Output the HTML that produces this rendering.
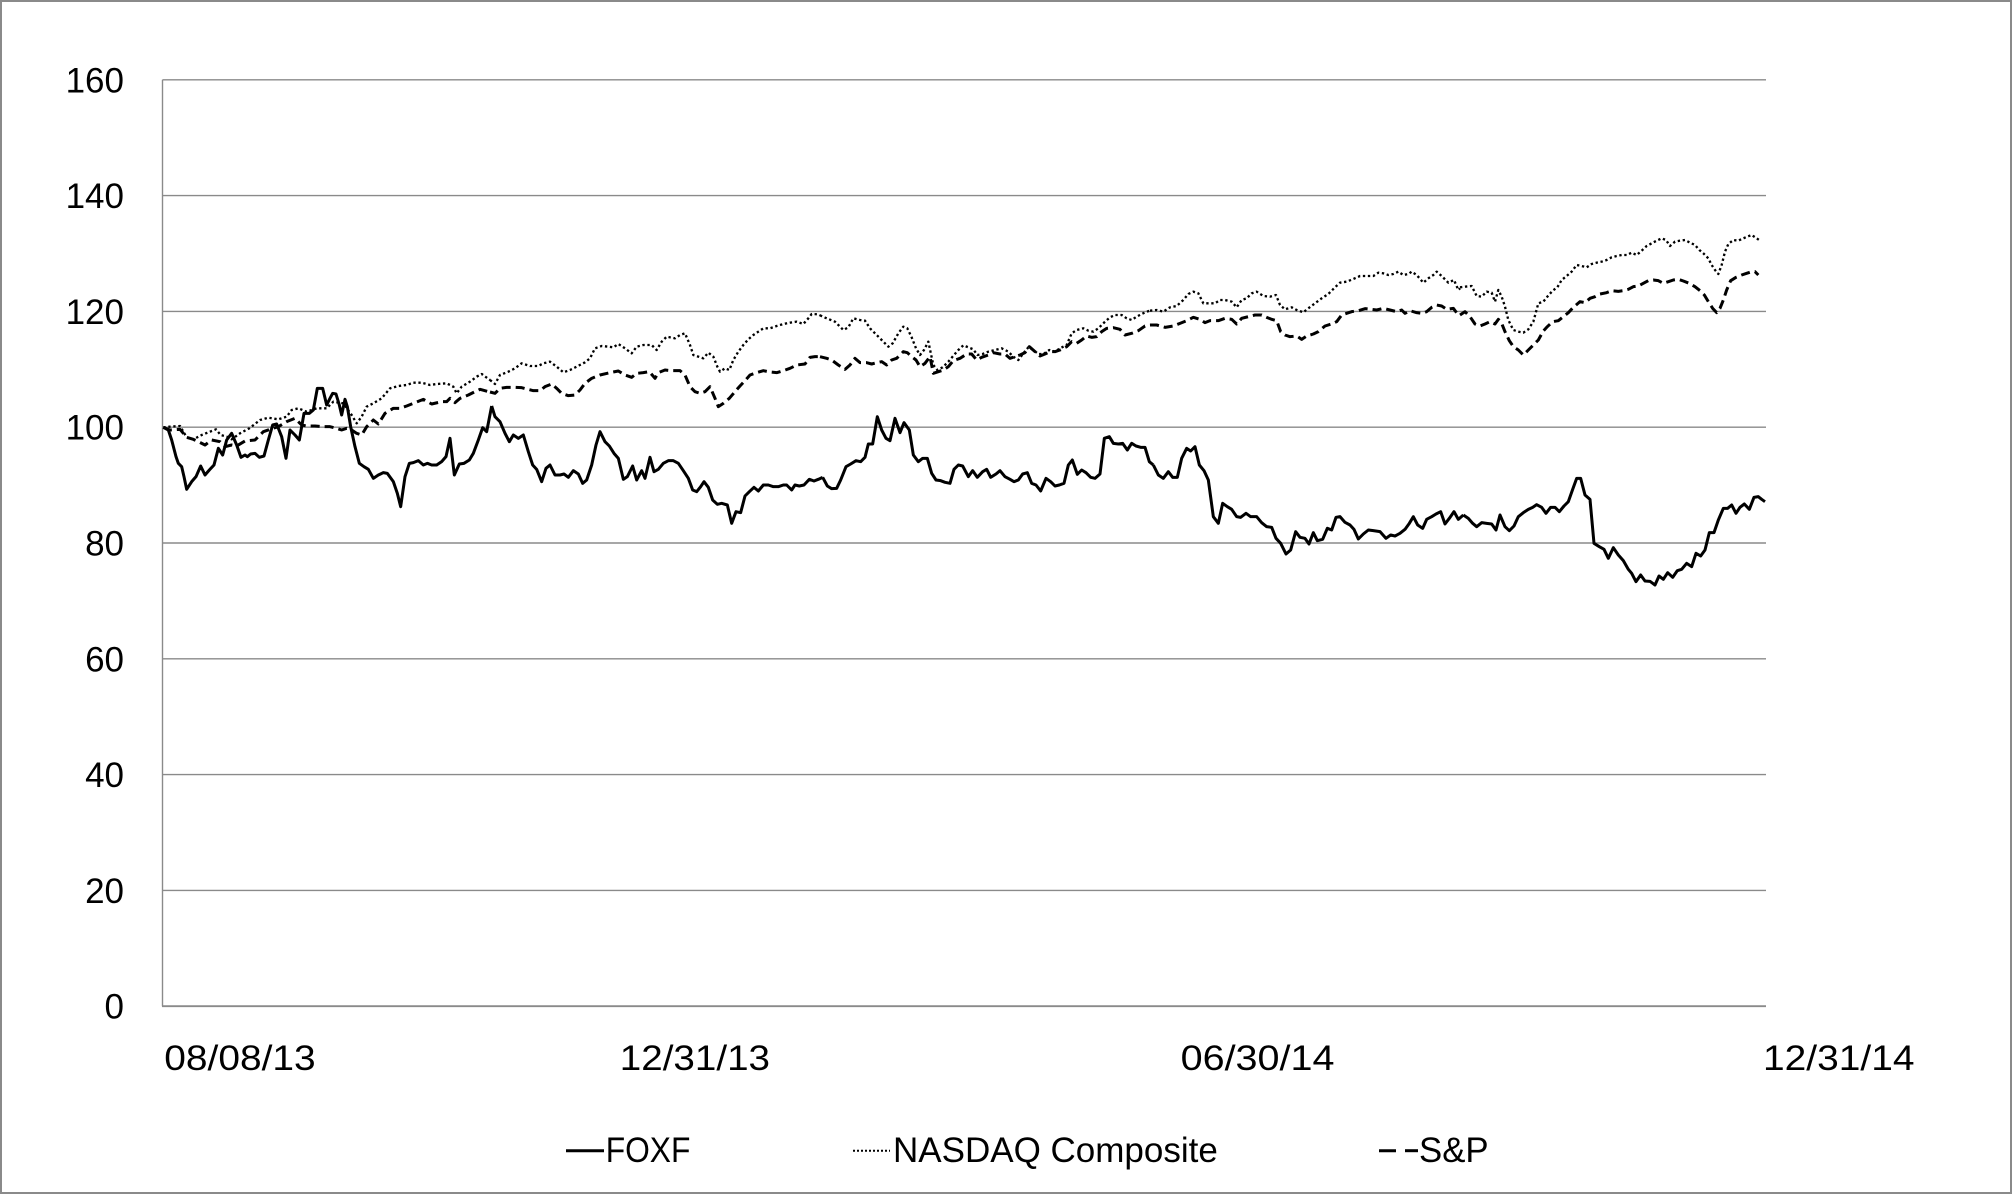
<!DOCTYPE html>
<html><head><meta charset="utf-8"><style>
html,body{margin:0;padding:0;background:#fff;}
svg{display:block;}
text{font-family:"Liberation Sans",Arial,sans-serif;fill:#000;}
</style></head><body>
<svg width="2012" height="1194" viewBox="0 0 2012 1194" xmlns="http://www.w3.org/2000/svg">
<rect x="0" y="0" width="2012" height="1194" fill="#fff"/>
<rect x="1" y="1" width="2010" height="1192" fill="none" stroke="#8a8a8a" stroke-width="2"/>
<g stroke="#8a8a8a" stroke-width="1.4" fill="none">
<line x1="162.5" y1="79.8" x2="1766" y2="79.8"/>
<line x1="162.5" y1="195.6" x2="1766" y2="195.6"/>
<line x1="162.5" y1="311.4" x2="1766" y2="311.4"/>
<line x1="162.5" y1="427.2" x2="1766" y2="427.2"/>
<line x1="162.5" y1="543" x2="1766" y2="543"/>
<line x1="162.5" y1="658.8" x2="1766" y2="658.8"/>
<line x1="162.5" y1="774.6" x2="1766" y2="774.6"/>
<line x1="162.5" y1="890.4" x2="1766" y2="890.4"/>
<line x1="162.5" y1="79.8" x2="162.5" y2="1006.2"/>
<line x1="162" y1="1006.2" x2="1766" y2="1006.2" stroke-width="1.8"/>
</g>
<g font-size="35" text-anchor="end">
<text x="124" y="92.3">160</text>
<text x="124" y="208.1">140</text>
<text x="124" y="323.9">120</text>
<text x="124" y="439.7">100</text>
<text x="124" y="555.5">80</text>
<text x="124" y="671.3">60</text>
<text x="124" y="787.1">40</text>
<text x="124" y="902.9">20</text>
<text x="124" y="1018.7">0</text>
</g>
<g font-size="35">
<text x="164.3" y="1070" textLength="151.4" lengthAdjust="spacingAndGlyphs">08/08/13</text>
<text x="619.8" y="1070" textLength="150.2" lengthAdjust="spacingAndGlyphs">12/31/13</text>
<text x="1180.6" y="1070" textLength="153.9" lengthAdjust="spacingAndGlyphs">06/30/14</text>
<text x="1763" y="1070" textLength="151.5" lengthAdjust="spacingAndGlyphs">12/31/14</text>
<text x="605.7" y="1162" textLength="84.7" lengthAdjust="spacingAndGlyphs">FOXF</text>
<text x="893" y="1162" textLength="324.8" lengthAdjust="spacingAndGlyphs">NASDAQ Composite</text>
<text x="1419" y="1162" textLength="69.6" lengthAdjust="spacingAndGlyphs">S&amp;P</text>
</g>
<g stroke="#000" fill="none">
<line x1="566" y1="1150.7" x2="604" y2="1150.7" stroke-width="3"/>
<line x1="853" y1="1150.7" x2="890" y2="1150.7" stroke-width="2" stroke-dasharray="2 2"/>
<line x1="1379" y1="1150.7" x2="1396" y2="1150.7" stroke-width="3"/>
<line x1="1405" y1="1150.7" x2="1418" y2="1150.7" stroke-width="3"/>
</g>

<!-- NASDAQ (dotted) -->
<g fill="none" stroke="#000" stroke-width="7" stroke-dasharray="7 8" stroke-linejoin="round">
<polyline transform="translate(160,200) scale(0.333333)" points="10,682 30,680 60,678 80,712 100,718 125,705 150,695 168,688 182,705 200,710 215,718 240,700 268,685 300,660 325,653 355,658 380,650 395,630 415,625 440,635 470,625 500,625 520,605 550,610 575,645 590,670 605,650 620,620 640,610 665,595 690,565 715,558 740,555 760,548 785,548 810,555 830,552 860,550 880,560 890,580 905,560 930,545 950,530 965,522 990,540"/>
<polyline transform="translate(490,200) scale(0.333333)" points="0,540 15,552 30,525 55,515 75,505 95,490 120,498 145,498 160,490 180,485 200,500 220,517 240,510 260,500 285,487 300,475 315,445 335,438 355,440 370,442 385,432 405,445 425,460 440,440 460,435 485,435 500,450 515,425 530,410 555,415 570,405 585,400 600,435 610,465 625,470 640,475 655,458 670,470 682,500 690,515 705,505 718,510 730,480 745,455 760,435 775,418 790,405 805,395 820,385 840,385 860,378 880,372 900,368 920,365 940,372 955,355 965,342 985,343 990,346"/>
<polyline transform="translate(820,200) scale(0.333333)" points="0,346 20,355 45,365 70,390 85,382 100,355 120,360 135,362 150,385 170,405 185,420 205,440 218,430 235,400 250,380 262,385 275,412 288,445 300,465 312,450 325,425 340,495 352,510 368,502 385,485 402,465 415,450 430,436 445,442 460,448 472,465 488,462 505,455 525,450 545,445 565,455 580,470 595,480 610,460 625,442 640,450 655,462 670,462 688,450 705,455 720,445 740,435 755,400 770,390 790,385 805,392 820,395 835,385 855,365 870,352 885,345 905,345 920,355 935,360 950,350 965,342 980,335 990,332"/>
<polyline transform="translate(1150,200) scale(0.333333)" points="0,332 20,330 40,335 60,322 80,318 100,300 115,282 130,275 145,280 160,310 180,310 195,310 210,300 225,300 245,305 260,322 275,300 290,295 305,280 320,275 340,288 360,290 378,285 390,315 405,328 425,322 440,330 460,337 475,325 495,310 515,295 535,282 555,262 570,248 590,245 610,237 630,228 655,228 670,228 685,218 700,220 715,225 730,222 745,215 760,225 775,222 785,215 800,225 820,248 835,235 850,225 860,215 875,228 895,248 912,240 925,270 930,265"/>
<polyline transform="translate(1460,170) scale(0.333333)" points="0,352 15,350 35,348 50,378 65,380 80,365 95,368 105,395 115,360 125,380 135,410 145,450 160,480 175,485 190,488 205,478 220,455 235,400 250,395 262,380 278,362 292,352 305,330 320,318 335,305 350,285 365,288 380,292 395,282 410,278 425,275 440,270 455,262 470,258 485,255 500,255 515,248 530,255 545,242 560,228 575,220 590,212 605,205 618,210 630,228 645,215 660,212 675,210 690,218 705,225 718,240 730,250 745,265 755,285 765,300 775,312 785,285 795,245 805,222 820,210 835,212 850,205 862,200 875,195 890,205 900,212"/>
</g>

<!-- S&P (dashed) -->
<g fill="none" stroke="#000" stroke-width="9" stroke-dasharray="27 15" stroke-linejoin="round">
<polyline transform="translate(160,200) scale(0.333333)" points="10,682 30,690 60,688 70,700 80,712 100,718 115,725 135,735 155,720 180,725 195,740 215,735 230,738 255,723 285,720 310,695 330,688 355,680 380,665 405,655 425,675 440,678 465,678 490,680 510,680 530,685 545,690 560,685 575,690 590,700 605,705 620,680 640,660 655,672 675,640 700,625 720,625 740,618 765,608 790,598 815,612 845,605 860,605 870,595 885,608 900,595 925,585 945,575 960,568 985,575 990,576"/>
<polyline transform="translate(490,200) scale(0.333333)" points="0,576 15,580 30,565 50,562 75,562 95,563 110,567 130,572 150,572 165,560 185,552 200,565 215,580 235,587 255,585 270,570 285,550 305,535 330,525 360,518 385,513 405,525 425,532 440,520 460,518 478,515 495,535 505,518 525,510 545,512 570,512 585,525 600,560 615,575 630,580 645,575 660,560 675,595 685,620 700,610 718,595 735,575 750,558 765,542 780,525 800,518 820,512 840,516 860,518 880,512 900,505 920,495 945,492 960,472 975,470 990,470"/>
<polyline transform="translate(820,200) scale(0.333333)" points="0,470 20,475 35,480 55,495 75,508 90,495 105,475 120,488 140,488 155,492 170,488 185,485 200,495 215,480 230,475 250,455 262,458 275,470 288,480 300,500 315,490 330,470 340,520 355,515 370,510 385,500 400,482 420,475 440,462 455,462 470,480 485,472 505,465 520,458 540,462 555,462 570,475 585,470 600,465 615,458 628,440 645,455 660,468 675,462 690,455 705,455 720,450 740,440 755,425 770,430 785,420 800,408 815,412 830,410 845,395 860,385 880,383 900,388 915,405 935,400 955,392 975,378 990,375"/>
<polyline transform="translate(1150,200) scale(0.333333)" points="0,375 20,375 45,382 70,378 90,370 110,362 130,352 150,358 165,368 180,362 205,362 225,355 245,358 260,372 275,355 295,350 315,345 335,345 350,352 365,358 380,362 392,395 405,405 420,410 440,408 455,418 470,408 490,402 505,395 525,378 545,372 560,365 575,345 590,340 605,335 625,332 645,326 665,328 680,330 700,325 720,330 740,335 755,330 765,340 780,332 800,338 815,340 830,335 845,322 860,315 875,318 890,328 910,325 925,345 930,345"/>
<polyline transform="translate(1460,170) scale(0.333333)" points="0,435 15,425 30,440 45,462 60,468 75,462 90,455 105,462 115,448 125,460 135,485 148,512 160,530 175,540 190,555 205,540 220,525 235,510 250,483 262,470 278,455 295,452 310,440 325,428 340,412 360,395 375,398 390,385 405,380 420,372 440,368 455,362 475,364 490,362 505,358 520,350 535,348 550,340 565,332 580,330 595,332 610,340 625,335 640,330 655,328 670,333 688,340 705,350 720,362 733,375 745,395 758,415 770,428 780,415 790,390 800,360 812,332 828,322 845,315 860,310 875,305 885,305 895,315"/>
</g>

<!-- FOXF (solid) -->
<g fill="none" stroke="#000" stroke-width="9" stroke-linejoin="round">
<polyline transform="translate(160,200) scale(0.333333)" points="10,682 25,690 35,720 48,770 55,790 65,800 72,830 80,868 95,845 108,830 122,798 135,825 148,810 162,795 175,745 188,765 200,720 215,700 230,735 243,772 255,765 262,770 272,762 285,760 298,772 312,768 325,720 338,675 350,672 365,710 378,775 390,690 405,705 418,720 432,640 448,640 460,630 472,565 488,565 500,615 510,595 518,580 528,582 538,615 545,645 555,598 562,620 572,680 585,740 598,790 612,800 625,808 640,835 655,825 670,818 682,820 700,845 712,880 722,920 735,830 748,790 760,788 775,782 790,795 802,790 815,795 830,795 845,785 858,770 870,715 883,825 898,792 912,790 928,780 940,760 955,720 968,683 980,695 995,618"/>
<polyline transform="translate(490,200) scale(0.333333)" points="5,618 15,650 30,665 45,700 58,725 70,705 85,715 100,705 115,755 128,795 140,808 155,845 168,805 180,795 195,825 210,825 222,822 235,832 250,812 265,822 278,850 290,840 305,795 318,735 330,695 345,725 358,738 372,760 385,775 400,838 412,830 428,798 440,840 455,812 465,835 480,772 492,815 505,808 520,790 535,782 550,782 565,790 580,812 595,835 608,870 620,875 632,860 642,845 655,862 668,900 682,913 695,910 712,915 725,970 738,935 752,938 765,888 778,875 792,862 805,873 820,855 835,855 850,860 865,860 880,855 890,855 905,870 915,855 928,858 942,855 958,838 972,843 985,838 998,832"/>
<polyline transform="translate(820,200) scale(0.333333)" points="8,832 22,858 35,866 50,865 62,840 78,800 92,792 108,782 122,785 135,772 145,732 158,732 172,650 185,690 198,715 210,722 225,655 240,698 252,668 268,690 280,765 295,785 308,775 322,775 335,820 348,840 362,842 375,847 390,850 402,808 415,795 428,798 445,830 458,812 472,832 488,815 500,808 512,832 528,822 540,812 555,830 570,838 582,845 595,840 608,822 622,818 635,850 648,855 662,873 678,835 692,845 705,858 718,855 732,850 745,795 757,780 772,823 785,810 798,818 812,832 825,835 840,822 853,715 868,710 880,730 895,732 908,730 922,750 935,730 948,738 962,742 975,742 988,785 1000,795"/>
<polyline transform="translate(1150,380) scale(0.333333)" points="10,255 25,285 40,295 55,275 68,292 82,292 95,235 110,205 122,213 135,200 148,255 162,272 175,300 190,410 205,430 218,370 232,380 245,388 260,410 272,412 288,400 302,410 320,410 335,428 350,440 365,442 378,475 392,490 408,522 422,510 437,455 450,472 465,475 477,492 490,458 502,482 518,478 532,445 545,450 558,412 570,410 585,427 600,435 612,448 625,477 640,462 655,450 670,452 690,455 708,475 722,465 735,468 750,460 765,448 778,430 790,410 803,435 818,445 830,418 845,410 858,402 872,395 885,432 898,415 912,395 925,418 940,405"/>
<polyline transform="translate(1460,400) scale(0.333333)" points="10,345 25,355 38,370 50,380 65,368 80,370 95,372 108,390 120,345 135,380 148,392 162,378 175,350 190,338 205,328 218,322 230,314 245,322 258,340 272,322 285,322 298,335 312,318 325,305 338,268 350,235 362,235 375,285 390,298 402,430 418,440 432,448 445,475 460,443 475,465 490,482 505,508 515,520 528,545 542,525 555,543 570,544 585,555 597,528 610,538 623,518 638,532 652,512 665,508 680,490 695,500 708,460 722,468 735,450 748,398 762,398 775,360 790,325 803,325 815,315 828,340 840,322 853,312 868,328 882,292 895,290 905,298 915,305"/>
</g>
</svg>
</body></html>
